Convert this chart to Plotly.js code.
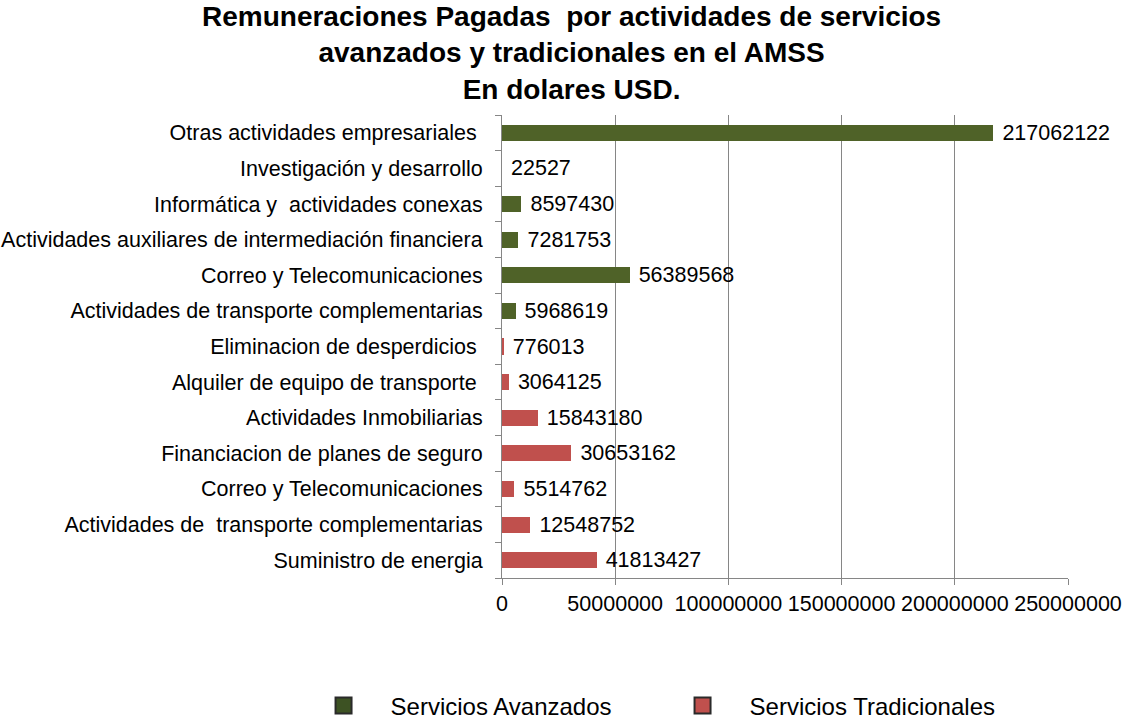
<!DOCTYPE html>
<html>
<head>
<meta charset="utf-8">
<script src="https://cdn.plot.ly/plotly-3.0.1.min.js"></script>
<style>html,body{margin:0;padding:0;background:#fff;}#chart{width:1123px;height:720px;}</style>
</head>
<body>
<div id="chart"></div>
<script>
// Categories, bottom to top
var categories = [
  "Suministro de energia",
  "Actividades de\u00a0 transporte complementarias",
  "Correo y Telecomunicaciones",
  "Financiacion de planes de seguro",
  "Actividades Inmobiliarias",
  "Alquiler de equipo de transporte\u00a0",
  "Eliminacion de desperdicios\u00a0",
  "Actividades de transporte complementarias",
  "Correo y Telecomunicaciones",
  "Actividades auxiliares de intermediación financiera",
  "Informática y\u00a0 actividades conexas",
  "Investigación y desarrollo",
  "Otras actividades empresariales\u00a0"
];
var serviciosTradicionales = [41813427, 12548752, 5514762, 30653162, 15843180, 3064125, 776013, null, null, null, null, null, null];
var serviciosAvanzados = [null, null, null, null, null, null, null, 5968619, 56389568, 7281753, 8597430, 22527, 217062122];
var xTicks = [0, 50000000, 100000000, 150000000, 200000000, 250000000];
var seriesNames = ["Servicios Avanzados", "Servicios Tradicionales"];

var positions = categories.map(function(_, i){ return i; });
var font = "Liberation Sans, Arial, sans-serif";

function barTrace(vals, name, color){
  return {
    type: "bar", orientation: "h",
    x: vals, y: positions, name: name, showlegend: false,
    width: 0.45,
    marker: {color: color},
    texttemplate: "\u00a0%{x:d}",
    textposition: "outside",
    constraintext: "none",
    cliponaxis: false,
    textfont: {family: font, size: 21.5, color: "#000"},
    hoverinfo: "x+name"
  };
}
function legendTrace(name, color, border){
  return {
    type: "scatter", mode: "markers", x: [null], y: [null], name: name,
    marker: {symbol: "square", size: 20, color: color, line: {color: border, width: 2}},
    showlegend: true
  };
}

var data = [
  barTrace(serviciosAvanzados, seriesNames[0], "#4F6228"),
  barTrace(serviciosTradicionales, seriesNames[1], "#C0504D"),
  legendTrace(seriesNames[0], "#3D5223", "#2a2a2a"),
  legendTrace(seriesNames[1], "#C0504D", "#2a2a2a")
];

var layout = {
  width: 1123, height: 720,
  paper_bgcolor: "#fff", plot_bgcolor: "#fff",
  margin: {l: 502, r: 55, t: 115, b: 142, autoexpand: false},
  font: {family: font, size: 21.5, color: "#000"},
  title: {
    text: "<b>Remuneraciones Pagadas  por actividades de servicios<br>avanzados y tradicionales en el AMSS<br>En dolares USD.</b>",
    font: {family: font, size: 28, color: "#000"},
    x: 0.509, xref: "container", xanchor: "center",
    y: 0.964, yref: "container", yanchor: "top"
  },
  barmode: "stack",
  xaxis: {
    range: [0, 250000000],
    tickvals: xTicks,
    tickformat: "d",
    showgrid: true, gridcolor: "#868686", gridwidth: 1,
    zeroline: false,
    showline: true, linecolor: "#868686", linewidth: 1,
    ticks: "outside", ticklen: 6, tickcolor: "#868686",
    tickfont: {family: font, size: 21.5, color: "#000"},
    fixedrange: true
  },
  yaxis: {
    range: [-0.5, categories.length - 0.5],
    tickvals: positions,
    ticktext: categories,
    showgrid: false, zeroline: false,
    showline: true, linecolor: "#868686", linewidth: 1,
    ticks: "outside", ticklen: 14, tickcolor: "rgba(0,0,0,0)",
    minor: {tickmode: "linear", tick0: -0.5, dtick: 1, ticks: "outside", ticklen: 6, tickcolor: "#868686", showgrid: false},
    tickfont: {family: font, size: 21.5, color: "#000"},
    fixedrange: true
  },
  legend: {
    orientation: "h", traceorder: "normal",
    x: -0.363, xanchor: "left",
    y: -0.2765, yanchor: "middle",
    font: {family: font, size: 24, color: "#000"},
    itemwidth: 84,
    entrywidth: 260,
    bgcolor: "rgba(0,0,0,0)"
  },
  showlegend: true
};

Plotly.newPlot("chart", data, layout, {displayModeBar: false, staticPlot: true});
</script>
</body>
</html>
